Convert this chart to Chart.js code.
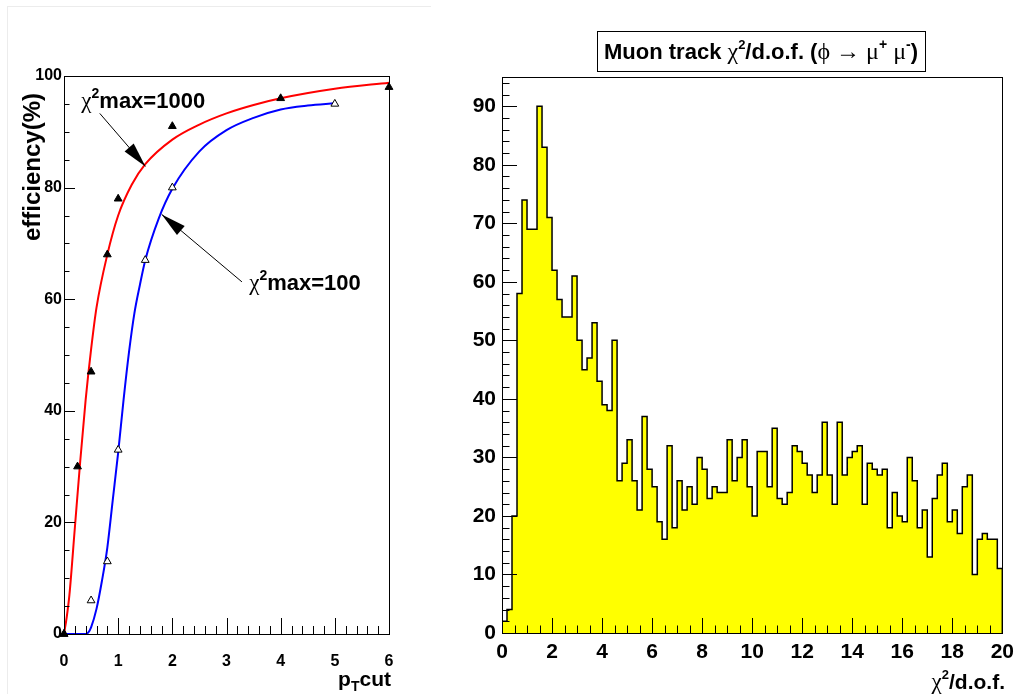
<!DOCTYPE html>
<html>
<head>
<meta charset="utf-8">
<script src="https://cdn.jsdelivr.net/npm/chart.js@4.4.0/dist/chart.umd.min.js"></script>
<style>
  body { margin: 0; background: #fff; width: 1021px; height: 694px; position: relative; overflow: hidden; }
  .pad { position: absolute; top: 0; }
  #padEdge { position: absolute; left: 7px; top: 6px; width: 423px; height: 700px;
             border-left: 1px solid #ececec; border-top: 1px solid #ececec; }
</style>
</head>
<body>
<div id="padEdge"></div>
<div class="pad" style="left:0"><canvas id="eff" width="440" height="694"></canvas></div>
<div class="pad" style="left:440px"><canvas id="chi" width="581" height="694"></canvas></div>
<script>
// ---- left pad: efficiency vs pT cut ----
const ptMeas1000 = [0, 0.25, 0.5, 0.8, 1, 2, 4, 6];
const effMeas1000 = [0, 30, 47, 68, 78, 91, 96, 98];
const ptMeas100 = [0, 0.5, 0.8, 1, 1.5, 2, 5];
const effMeas100 = [0, 6, 13, 33, 67, 80, 95];

// fitted curves
const ptFit1000 = [0, 0.05, 0.1, 0.2, 0.3, 0.4, 0.5, 0.6, 0.8, 1, 1.25, 1.5, 2, 2.5, 3, 3.5, 4, 5, 6];
const effFit1000 = [0, 3, 7, 19, 31, 42, 51, 58.5, 68, 75, 80.5, 84.2, 88.6, 91.3, 93.3, 94.8, 96, 97.7, 98.8];
const ptFit100 = [0, 0.4, 0.45, 0.5, 0.6, 0.7, 0.8, 0.9, 1, 1.1, 1.2, 1.3, 1.4, 1.5, 1.75, 2, 2.5, 3, 3.5, 4, 4.5, 5];
const effFit100 = [0, 0, 0.3, 1.2, 4.5, 9.5, 15.5, 24, 32.5, 42, 50.5, 57.5, 62.5, 67, 74.5, 79.8, 86.5, 90.3, 92.5, 94, 94.7, 95.1];

const ptTicks = [0, 1, 2, 3, 4, 5, 6];
const effTicks = [0, 20, 40, 60, 80, 100];

// annotation labels and arrows (data coordinates)
const labelCut = ['1000', '100'];
const labelPos = [[0.32, 94.2], [3.42, 61.6]];
const arrowFrom = [[0.66, 93.3], [3.285, 63.1]];
const arrowTo = [[1.504, 83.8], [1.804, 75.2]];

// ---- right pad: muon track chi2/dof ----
const chiLow = 0;
const chiBinWidth = 0.2;
const chiCounts = [
  2, 4, 20, 58, 74, 69, 69, 90, 83, 71,
  62, 57, 54, 54, 61, 50, 45, 47, 53, 43,
  39, 38, 50, 26, 29, 33, 26, 21, 37, 28,
  25, 19, 16, 32, 18, 26, 21, 25, 22, 30,
  28, 23, 25, 24, 24, 33, 26, 30, 33, 25,
  20, 31, 31, 25, 35, 23, 22, 24, 32, 31,
  29, 27, 24, 27, 36, 27, 22, 36, 27, 30,
  31, 32, 22, 29, 28, 27, 28, 18, 24, 20,
  19, 30, 26, 18, 21, 13, 23, 27, 29, 19,
  21, 17, 25, 27, 10, 16, 17, 16, 16, 11
];
const chiTicks = [0, 2, 4, 6, 8, 10, 12, 14, 16, 18, 20];
const countTicks = [0, 10, 20, 30, 40, 50, 60, 70, 80, 90];

const SANS = '"Liberation Sans", Arial, Helvetica, sans-serif';
const SERIF = '"Liberation Serif", "DejaVu Serif", serif';
const bold = (s) => 'bold ' + s + 'px ' + SANS;
const serif = (s) => s + 'px ' + SERIF;

function drawRich(ctx, parts, x, y, align) {
  let w = 0;
  parts.forEach(p => { ctx.font = p.f; p.w = ctx.measureText(p.t).width; w += p.w; });
  let cx = align === 'right' ? x - w : align === 'center' ? x - w / 2 : x;
  ctx.textAlign = 'left';
  ctx.textBaseline = 'alphabetic';
  parts.forEach(p => { ctx.font = p.f; ctx.fillText(p.t, cx, y + (p.dy || 0)); cx += p.w; });
  return w;
}

function drawArrow(ctx, x0, y0, x1, y1, len, half) {
  ctx.beginPath();
  ctx.moveTo(x0, y0);
  ctx.lineTo(x1, y1);
  ctx.stroke();
  const a = Math.atan2(y1 - y0, x1 - x0);
  const bx = x1 - len * Math.cos(a), by = y1 - len * Math.sin(a);
  ctx.beginPath();
  ctx.moveTo(x1, y1);
  ctx.lineTo(bx + half * Math.sin(a), by - half * Math.cos(a));
  ctx.lineTo(bx - half * Math.sin(a), by + half * Math.cos(a));
  ctx.closePath();
  ctx.fill();
}

// ROOT style frame with ticks pointing inside
function drawFrame(chart, xMinorStep, yMinorStep, xLen, yLen) {
  const { ctx, chartArea: a, scales: { x, y } } = chart;
  ctx.save();
  ctx.strokeStyle = '#000';
  ctx.lineWidth = 1;
  ctx.strokeRect(Math.round(a.left) + 0.5, Math.round(a.top) + 0.5,
                 Math.round(a.right - a.left), Math.round(a.bottom - a.top));
  ctx.beginPath();
  const nx = Math.round((x.max - x.min) / xMinorStep);
  for (let i = 0; i <= nx; i++) {
    const v = x.min + i * xMinorStep;
    const major = x.ticks.some(t => Math.abs(t.value - v) < 1e-6);
    const px = Math.round(x.getPixelForValue(v)) + 0.5;
    ctx.moveTo(px, a.bottom);
    ctx.lineTo(px, a.bottom - (major ? xLen : xLen / 2));
  }
  const ny = Math.floor((y.max - y.min) / yMinorStep + 1e-6);
  for (let i = 0; i <= ny; i++) {
    const v = y.min + i * yMinorStep;
    const major = y.ticks.some(t => Math.abs(t.value - v) < 1e-6);
    const py = Math.round(y.getPixelForValue(v)) + 0.5;
    ctx.moveTo(a.left, py);
    ctx.lineTo(a.left + (major ? yLen : yLen / 2), py);
  }
  ctx.stroke();
  ctx.restore();
}

const effDecor = {
  id: 'effDecor',
  afterDraw(chart) {
    const { ctx, scales: { x, y } } = chart;
    drawFrame(chart, 0.2, 5, 16, 11);
    ctx.save();
    ctx.fillStyle = '#000';
    ctx.strokeStyle = '#000';
    ctx.lineWidth = 1;
    // annotations
    labelCut.forEach((cut, i) => {
      const lx = x.getPixelForValue(labelPos[i][0]);
      const ly = y.getPixelForValue(labelPos[i][1]);
      drawRich(ctx, [
        { t: 'χ', f: serif(23) },
        { t: '2', f: bold(14), dy: -10 },
        { t: 'max=' + cut, f: bold(22) }
      ], lx, ly, 'left');
      drawArrow(ctx,
        x.getPixelForValue(arrowFrom[i][0]), y.getPixelForValue(arrowFrom[i][1]),
        x.getPixelForValue(arrowTo[i][0]), y.getPixelForValue(arrowTo[i][1]), 25, 6);
    });
    // axis titles
    drawRich(ctx, [
      { t: 'p', f: bold(21) },
      { t: 'T', f: bold(14), dy: 5 },
      { t: 'cut', f: bold(21) }
    ], 391, 686, 'right');
    ctx.translate(40, 93);
    ctx.rotate(-Math.PI / 2);
    ctx.font = bold(24);
    ctx.textAlign = 'right';
    ctx.textBaseline = 'alphabetic';
    ctx.fillText('efficiency(%)', 0, 0);
    ctx.restore();
  }
};

const chiDecor = {
  id: 'chiDecor',
  afterDraw(chart) {
    const { ctx } = chart;
    drawFrame(chart, 0.5, 2, 15, 15);
    ctx.save();
    ctx.fillStyle = '#000';
    // title box
    const titleParts = [
      { t: 'Muon track ', f: bold(22) },
      { t: 'χ', f: serif(24) },
      { t: '2', f: bold(13), dy: -10 },
      { t: '/d.o.f. (', f: bold(22) },
      { t: 'ϕ → μ', f: serif(24) },
      { t: '+', f: bold(14), dy: -10 },
      { t: ' μ', f: serif(24) },
      { t: '-', f: bold(14), dy: -10 },
      { t: ')', f: bold(22) }
    ];
    const cx = 321;
    const w = drawRich(ctx, titleParts, cx, 59, 'center');
    ctx.strokeStyle = '#000';
    ctx.lineWidth = 1;
    ctx.strokeRect(Math.round(cx - w / 2 - 7) + 0.5, 31.5, Math.round(w + 14), 40);
    // x title
    drawRich(ctx, [
      { t: 'χ', f: serif(23) },
      { t: '2', f: bold(13), dy: -10 },
      { t: '/d.o.f.', f: bold(21) }
    ], 565, 689, 'right');
    ctx.restore();
  }
};

const tickFont = (s) => ({ family: SANS, size: s, weight: 'bold' });

new Chart(document.getElementById('eff'), {
  type: 'line',
  data: {
    datasets: [
      {
        data: ptMeas1000.map((v, i) => ({ x: v, y: effMeas1000[i] })),
        showLine: false, pointStyle: 'triangle', pointRadius: 4.5,
        backgroundColor: '#000', borderColor: '#000', borderWidth: 1, clip: false
      },
      {
        data: ptMeas100.map((v, i) => ({ x: v, y: effMeas100[i] })),
        showLine: false, pointStyle: 'triangle', pointRadius: 4.5,
        backgroundColor: '#fff', borderColor: '#000', borderWidth: 1, clip: false
      },
      {
        data: ptFit1000.map((v, i) => ({ x: v, y: effFit1000[i] })),
        borderColor: '#ff0000', borderWidth: 2, pointRadius: 0,
        cubicInterpolationMode: 'monotone', clip: false
      },
      {
        data: ptFit100.map((v, i) => ({ x: v, y: effFit100[i] })),
        borderColor: '#0000ff', borderWidth: 2, pointRadius: 0,
        cubicInterpolationMode: 'monotone', clip: false
      }
    ]
  },
  options: {
    responsive: false,
    animation: false,
    devicePixelRatio: 1,
    layout: { padding: { top: 76, right: 51, left: 0, bottom: 0 } },
    plugins: { legend: { display: false }, tooltip: { enabled: false } },
    scales: {
      x: {
        type: 'linear', min: 0, max: 6,
        afterBuildTicks: s => { s.ticks = ptTicks.map(v => ({ value: v })); },
        afterFit: s => { s.height = 60; },
        grid: { display: false, drawTicks: false },
        border: { display: false },
        ticks: { font: tickFont(16), color: '#000', padding: 18, maxRotation: 0 }
      },
      y: {
        type: 'linear', min: 0, max: 100,
        afterBuildTicks: s => { s.ticks = effTicks.map(v => ({ value: v })); },
        afterFit: s => { s.width = 64; },
        grid: { display: false, drawTicks: false },
        border: { display: false },
        ticks: { font: tickFont(16), color: '#000', padding: 2 }
      }
    }
  },
  plugins: [effDecor]
});

// histogram outline: step after each right bin edge, closed down to zero at both ends
const chiSteps = [{ x: chiLow, y: 0 }]
  .concat(chiCounts.map((c, i) => ({ x: chiLow + (i + 1) * chiBinWidth, y: c })))
  .concat([{ x: chiLow + chiCounts.length * chiBinWidth, y: 0 }]);

new Chart(document.getElementById('chi'), {
  type: 'line',
  data: {
    datasets: [{
      data: chiSteps,
      stepped: 'after',
      borderColor: '#000',
      borderWidth: 1.5,
      backgroundColor: '#ffff00',
      fill: 'origin',
      pointRadius: 0
    }]
  },
  options: {
    responsive: false,
    animation: false,
    devicePixelRatio: 1,
    layout: { padding: { top: 77, right: 17, left: 0, bottom: 0 } },
    plugins: { legend: { display: false }, tooltip: { enabled: false } },
    scales: {
      x: {
        type: 'linear', min: 0, max: 20,
        afterBuildTicks: s => { s.ticks = chiTicks.map(v => ({ value: v })); },
        afterFit: s => { s.height = 61; },
        grid: { display: false, drawTicks: false },
        border: { display: false },
        ticks: { font: tickFont(21), color: '#000', padding: 7, maxRotation: 0 }
      },
      y: {
        type: 'linear', min: 0, max: 95,
        afterBuildTicks: s => { s.ticks = countTicks.map(v => ({ value: v })); },
        afterFit: s => { s.width = 62; },
        grid: { display: false, drawTicks: false },
        border: { display: false },
        ticks: { font: tickFont(21), color: '#000', padding: 6 }
      }
    }
  },
  plugins: [chiDecor]
});
</script>
</body>
</html>
